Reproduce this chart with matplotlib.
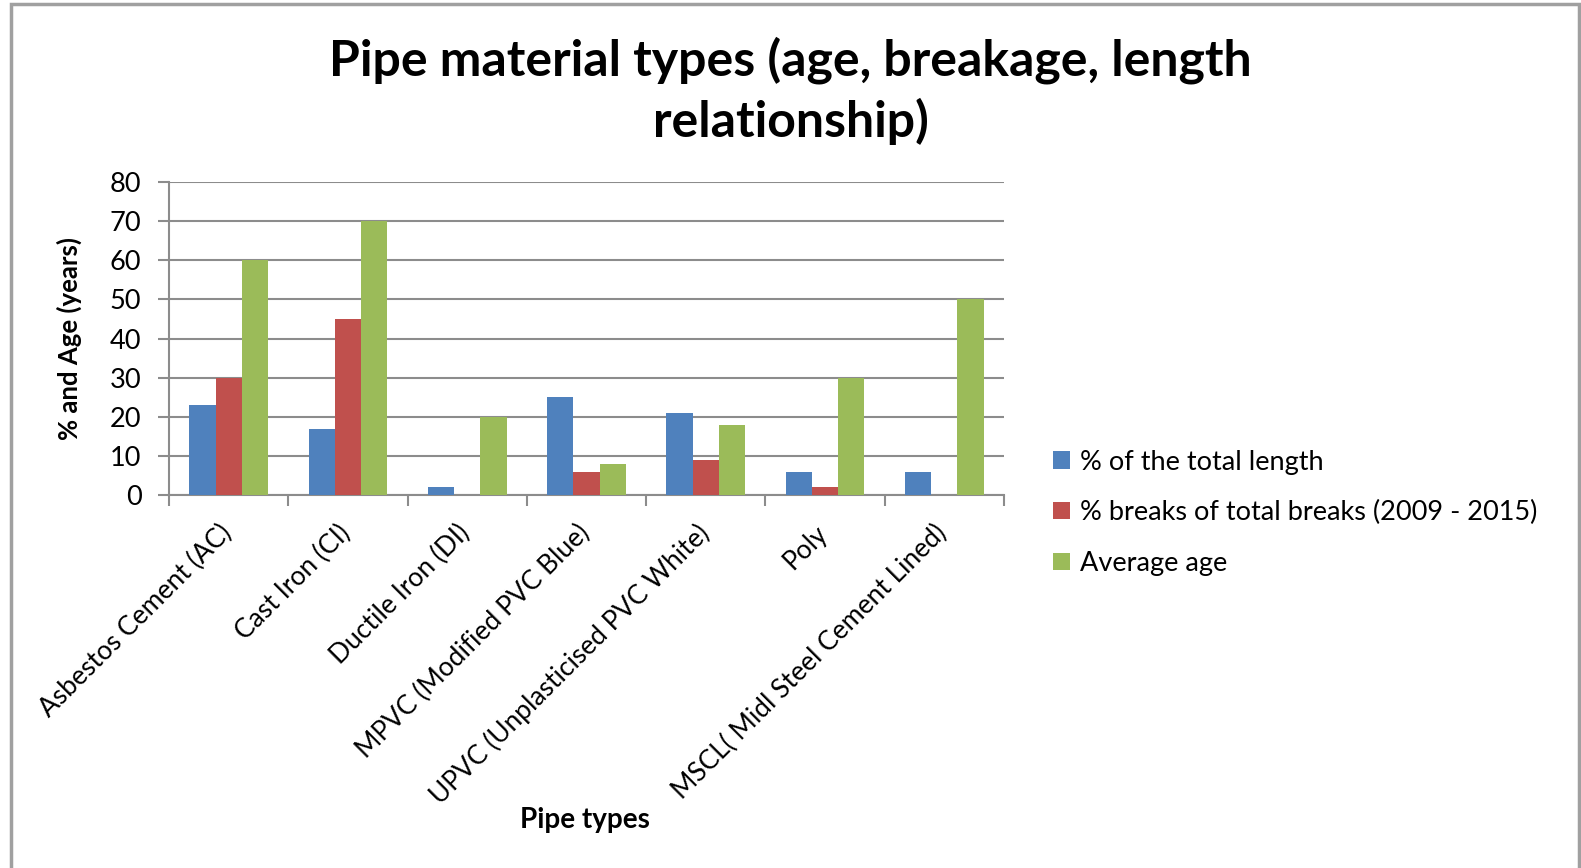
import matplotlib
matplotlib.use('Agg')
import matplotlib.pyplot as plt
from matplotlib.patches import Rectangle
from matplotlib.transforms import ScaledTranslation
import numpy as np

# pipe categories and the three measures per category
pipe_types = ['Asbestos Cement (AC)', 'Cast Iron (CI)', 'Ductile Iron (DI)',
              'MPVC (Modified PVC Blue)', 'UPVC (Unplasticised PVC White)',
              'Poly', 'MSCL( Midl Steel Cement Lined)']
pct_length = [23, 17, 2, 25, 21, 6, 6]
pct_breaks = [30, 45, 0, 6, 9, 2, 0]
avg_age = [60, 70, 20, 8, 18, 30, 50]

series_names = ['% of the total length',
                '% breaks of total breaks (2009 - 2015)',
                'Average age']
colors = ['#4F81BD', '#C0504D', '#9BBB59']

plt.rcParams['font.family'] = ['Lato', 'DejaVu Sans']

fig = plt.figure(figsize=(15.81, 8.68), dpi=100)
ax = fig.add_axes([0.107, 0.4297, 0.528, 0.3606])

x = np.arange(len(pipe_types))
w = 0.22
for i, vals in enumerate([pct_length, pct_breaks, avg_age]):
    ax.bar(x + (i - 1) * w, vals, width=w, color=colors[i],
           label=series_names[i], zorder=3)

ax.set_xlim(-0.5, len(pipe_types) - 0.5)
ax.set_ylim(0, 80)
ax.set_yticks(range(0, 81, 10))
ax.yaxis.grid(True, color='#8c8c8c', linewidth=1.5, zorder=0)
ax.tick_params(axis='y', labelsize=19.5, length=8, width=1.5, color='#8c8c8c', pad=12)

# labels at category centres, tick marks on the boundaries
ax.set_xticks(x)
ax.set_xticklabels(pipe_types, rotation=45, ha='right', rotation_mode='anchor', fontsize=19)
ax.set_xticks(np.arange(-0.5, len(pipe_types)), minor=True)
ax.tick_params(axis='x', which='major', length=0, pad=18)
ax.tick_params(axis='x', which='minor', length=8, width=1.5, color='#8c8c8c')
shift = ScaledTranslation(-10 / 100, 0, fig.dpi_scale_trans)
for lbl in ax.get_xticklabels():
    lbl.set_transform(lbl.get_transform() + shift)

for side in ['top', 'right']:
    ax.spines[side].set_visible(False)
ax.spines['left'].set_color('#8c8c8c')
ax.spines['left'].set_linewidth(1.5)
ax.spines['bottom'].set_color('#8c8c8c')
ax.spines['bottom'].set_linewidth(1.5)

ax.set_ylabel('% and Age (years)', fontsize=18.5, fontweight='bold', labelpad=20)
fig.text(0.37, 0.055, 'Pipe types', fontsize=20, fontweight='bold', ha='center', va='center')

fig.suptitle('Pipe material types (age, breakage, length\nrelationship)',
             x=0.5, y=0.958, fontsize=36, fontweight='bold', linespacing=1.35)

ax.legend(loc='center left', bbox_to_anchor=(1.03, -0.057), frameon=False,
          fontsize=19.5, handlelength=0.6, handleheight=0.6, handletextpad=0.4,
          labelspacing=0.95)

# outer chart border
fig.patches.append(Rectangle((11 / 1581, -0.05), (1579 - 11) / 1581, 1.05 - 4 / 868,
                             transform=fig.transFigure, fill=False,
                             edgecolor='#a0a0a0', linewidth=2.5))

fig.savefig('out.png', dpi=100)
